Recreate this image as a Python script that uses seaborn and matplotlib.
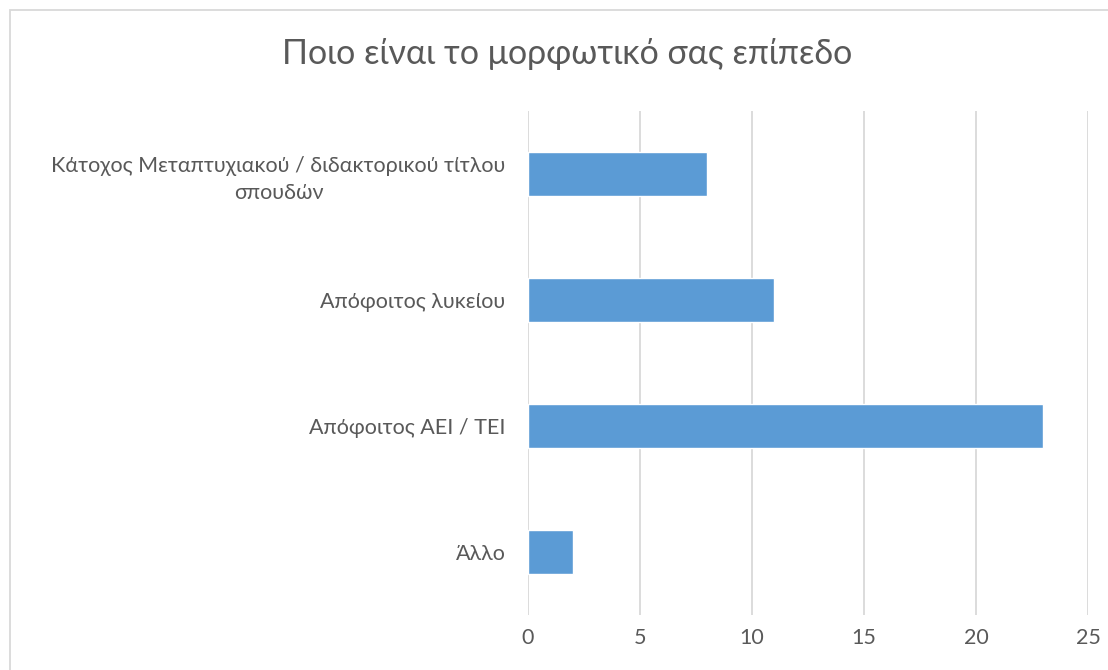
import matplotlib
matplotlib.use("Agg")
import matplotlib.pyplot as plt
from matplotlib.patches import Rectangle
import seaborn as sns
import pandas as pd

categories = [
    "Κάτοχος Μεταπτυχιακού / διδακτορικού τίτλου\nσπουδών",
    "Απόφοιτος λυκείου",
    "Απόφοιτος ΑΕΙ / ΤΕΙ",
    "Άλλο",
]
counts = [8, 11, 23, 2]
x_ticks = [0, 5, 10, 15, 20, 25]
title = "Ποιο είναι το μορφωτικό σας επίπεδο"

sns.set_theme(style="white")
plt.rcParams["font.family"] = ["Lato", "DejaVu Sans"]

text_color = "#595959"
grid_color = "#d9d9d9"
bar_color = "#5b9bd5"

df = pd.DataFrame({"level": categories, "count": counts})

fig = plt.figure(figsize=(11.08, 6.70), dpi=100)
ax = fig.add_axes([0.4765, 0.082, 0.5055, 0.752])

sns.barplot(data=df, y="level", x="count", orient="h", color=bar_color,
            width=0.35, saturation=1, ax=ax, zorder=3)

ax.set_xlim(0, 25)
ax.set_xticks(x_ticks)
ax.set_xticklabels([str(t) for t in x_ticks])
ax.set_ylim(len(categories) - 0.5, -0.5)
ax.xaxis.grid(True, color=grid_color, linewidth=1.3, zorder=0)
ax.yaxis.grid(False)
for s in ax.spines.values():
    s.set_visible(False)
ax.set_xlabel("")
ax.set_ylabel("")
ax.tick_params(axis="x", colors=text_color, labelsize=15.5, length=0, pad=9)
ax.tick_params(axis="y", colors=text_color, labelsize=15.5, length=0, pad=16)
for lbl in ax.get_yticklabels():
    lbl.set_multialignment("center")
    lbl.set_linespacing(1.45)

fig.text(0.512, 0.92, title, ha="center", va="center",
         fontsize=24.5, color=text_color)

# light frame around the chart area
fig.patches.append(Rectangle((10 / 1108, -0.1), 1.2, 1.1 - 10 / 670,
                             transform=fig.transFigure, fill=False,
                             edgecolor=grid_color, linewidth=1.3))

fig.savefig("out.png", dpi=100, facecolor="white")
